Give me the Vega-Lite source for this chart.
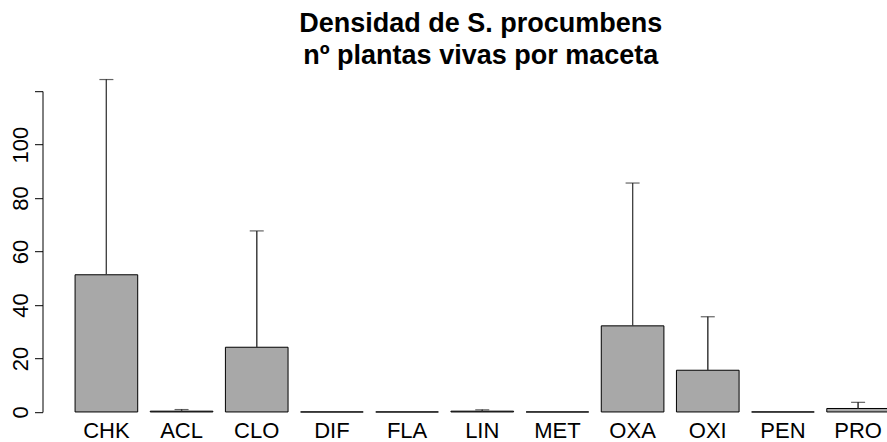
{
  "$schema": "https://vega.github.io/schema/vega-lite/v6.json",
  "autosize": {"type": "none"},
  "width": 844.5,
  "height": 346.6,
  "padding": {"left": 42.5, "top": 78.2, "right": 0, "bottom": 17.2},
  "background": "white",
  "config": {"view": {"stroke": null}, "font": "Liberation Sans"},
  "title": {
    "text": ["Densidad de S. procumbens", "\u00a0nº plantas vivas por maceta"],
    "font": "Liberation Sans",
    "fontSize": 27,
    "fontWeight": "bold",
    "color": "black",
    "lineHeight": 32,
    "anchor": "middle",
    "frame": "group",
    "dx": 16,
    "offset": 8
  },
  "data": {
    "values": [
      {"grupo": "CHK", "media": 51.3, "sup": 124.3},
      {"grupo": "ACL", "media": 0.3, "sup": 0.9},
      {"grupo": "CLO", "media": 24.2, "sup": 67.7},
      {"grupo": "DIF", "media": 0, "sup": 0},
      {"grupo": "FLA", "media": 0, "sup": 0},
      {"grupo": "LIN", "media": 0.3, "sup": 0.8},
      {"grupo": "MET", "media": 0, "sup": 0},
      {"grupo": "OXA", "media": 32.2, "sup": 85.6},
      {"grupo": "OXI", "media": 15.6, "sup": 35.6},
      {"grupo": "PEN", "media": 0, "sup": 0},
      {"grupo": "PRO", "media": 1.3, "sup": 3.6}
    ]
  },
  "encoding": {
    "x": {
      "field": "grupo",
      "type": "nominal",
      "sort": null,
      "scale": {"range": [0, 879.5], "paddingInner": 0.1667, "paddingOuter": 0.4333},
      "axis": {
        "title": null,
        "labelAngle": 0,
        "ticks": false,
        "domain": false,
        "labelFont": "Liberation Sans",
        "labelFontSize": 22,
        "labelColor": "black",
        "labelBaseline": "alphabetic",
        "labelPadding": 12.5
      }
    }
  },
  "layer": [
    {
      "mark": {"type": "rule", "stroke": "#444", "strokeWidth": 1.2},
      "encoding": {
        "y": {
          "field": "media",
          "type": "quantitative",
          "scale": {"domain": [-4.8, 124.8], "nice": false, "zero": false},
          "axis": {
            "title": null,
            "values": [0, 20, 40, 60, 80, 100, 120],
            "labelExpr": "datum.value == 120 ? '' : datum.label",
            "grid": false,
            "domainColor": "black",
            "domainWidth": 1,
            "domainDash": [0, 12.84, 320.9, 60],
            "tickColor": "black",
            "tickSize": 8,
            "tickWidth": 1,
            "labelAngle": -90,
            "labelAlign": "center",
            "labelBaseline": "alphabetic",
            "labelPadding": 7,
            "labelFont": "Liberation Sans",
            "labelFontSize": 22,
            "labelColor": "black"
          }
        },
        "y2": {"field": "sup"}
      }
    },
    {
      "mark": {"type": "bar", "fill": "#a8a8a8", "stroke": "black", "strokeWidth": 1},
      "encoding": {
        "y": {"field": "media", "type": "quantitative"},
        "y2": {"datum": 0}
      }
    },
    {
      "mark": {"type": "rule", "stroke": "#444", "strokeWidth": 1.2},
      "encoding": {
        "y": {"field": "media", "type": "quantitative"},
        "y2": {"field": "sup"}
      }
    },
    {
      "transform": [{"filter": "datum.sup > datum.media"}],
      "mark": {"type": "tick", "color": "#222", "size": 14, "thickness": 1.2, "orient": "horizontal"},
      "encoding": {
        "y": {"field": "sup", "type": "quantitative"}
      }
    }
  ]
}
